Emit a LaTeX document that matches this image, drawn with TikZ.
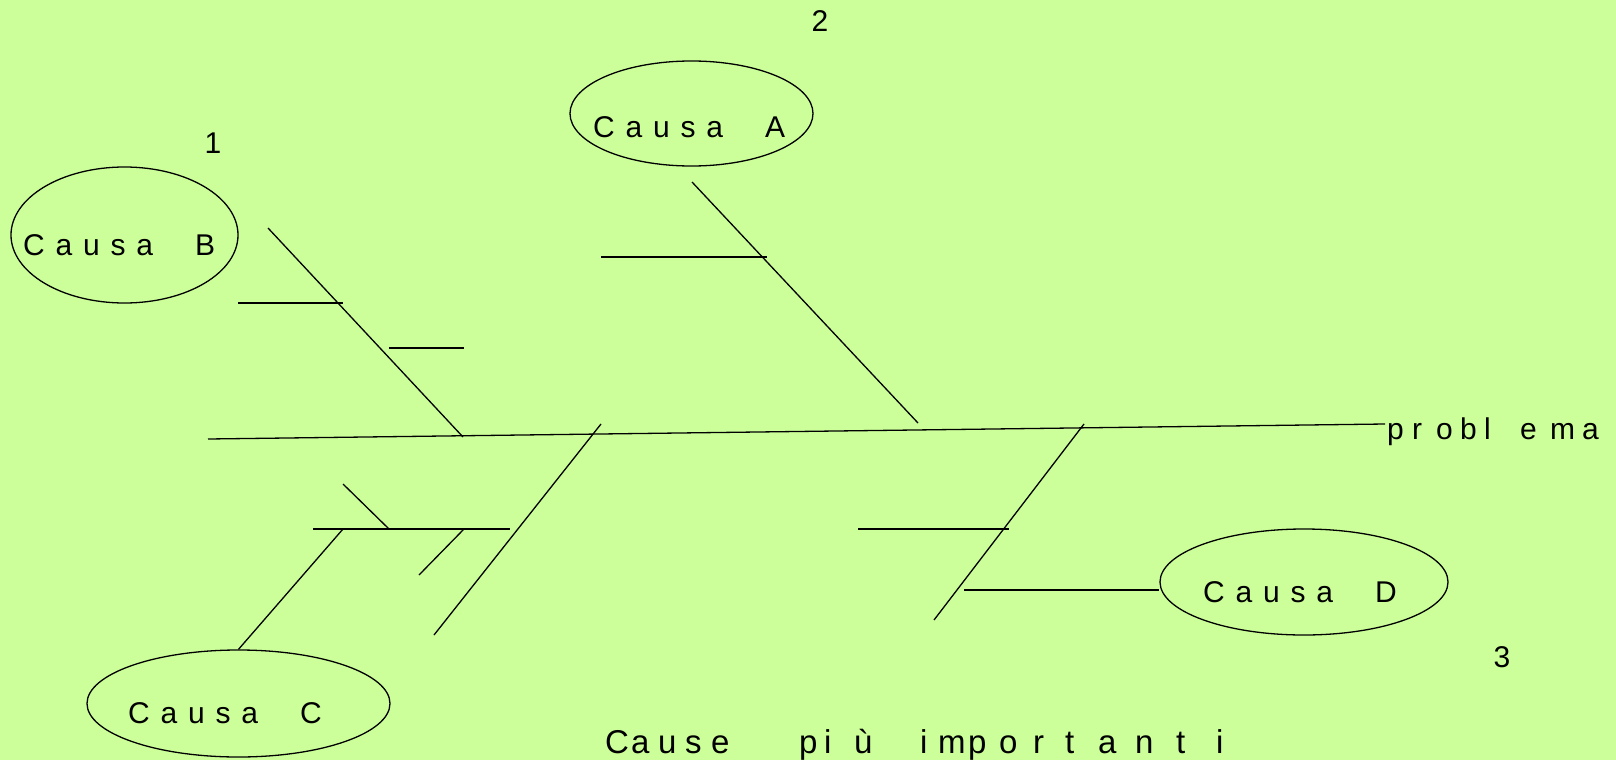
\documentclass[tikz,border=0pt]{standalone}
\usepackage{fontspec}
\setmainfont{Liberation Sans}
\usetikzlibrary{shapes.geometric}
\definecolor{bg}{HTML}{CCFF99}
\newcommand\ls{\hspace{0.36em}}
\newcommand\cw[2]{\makebox[#1pt][l]{#2}}
\begin{document}
\begin{tikzpicture}[x=1pt,y=-1pt,
  bone/.style={line width=1.3pt, black},
  cause/.style={ellipse, draw, line width=1.3pt, inner sep=0pt},
  lbl/.style={font=\fontsize{30}{36}\selectfont, inner sep=0pt, anchor=base west},
  num/.style={font=\fontsize{30}{36}\selectfont, inner sep=0pt, anchor=base}]
\useasboundingbox (0,0) rectangle (1616,760);
\fill[bg] (0,0) rectangle (1616,760);

% ellipses
\node[cause, minimum width=243pt, minimum height=105pt] (eA) at (691.5,113.5) {};
\node[cause, minimum width=227pt, minimum height=136pt] (eB) at (124.5,235) {};
\node[cause, minimum width=303pt, minimum height=107pt] (eC) at (238.5,703.5) {};
\node[cause, minimum width=288pt, minimum height=106pt] (eD) at (1304,582) {};

% labels
\node[lbl] (tA) at (593,137) {C\ls a\ls u\ls s\ls a\hspace{1.4em}A};
\node[lbl] (tB) at (23,255) {C\ls a\ls u\ls s\ls a\hspace{1.4em}B};
\node[lbl] (tC) at (128,723) {C\ls a\ls u\ls s\ls a\hspace{1.4em}C};
\node[lbl] (tD) at (1203,602) {C\ls a\ls u\ls s\ls a\hspace{1.4em}D};
\node[lbl] (prob) at (1387,439)
  {\cw{25}{p}\cw{24}{r}\cw{24}{o}\cw{24}{b}\cw{36}{l}\cw{30}{e}\cw{32}{m}a};
\node[lbl, font=\fontsize{33}{40}\selectfont] (title) at (605,753)
  {\cw{26}{C}\cw{27}{a}\cw{27}{u}\cw{26}{s}\cw{88}{e}\cw{25}{p}\cw{30}{i}\cw{66}{ù}\cw{18}{i}\cw{30}{m}\cw{31}{p}\cw{34}{o}\cw{32}{r}\cw{33}{t}\cw{37}{a}\cw{41}{n}\cw{40}{t}i};
\node[num] (n1) at (213,153) {1};
\node[num] (n2) at (820,32) {2};
\node[num] (n3) at (1502,667) {3};

% coordinates
\coordinate (sL) at (208,439);
\coordinate (sR) at (1385,424);
\coordinate (a1) at (692,182);
\coordinate (a2) at (918,423);
\coordinate (as1) at (601,257);
\coordinate (as2) at (767,257);
\coordinate (b1) at (268,228);
\coordinate (b2) at (463,437);
\coordinate (bs1) at (238,303);
\coordinate (bs2) at (343,303);
\coordinate (bt1) at (389,348);
\coordinate (bt2) at (464,348);
\coordinate (c1) at (601,424);
\coordinate (c2) at (434,635);
\coordinate (cs1) at (313,529);
\coordinate (cs2) at (510,529);
\coordinate (cj) at (343,529);
\coordinate (cu1) at (343,484);
\coordinate (cu2) at (389,529);
\coordinate (cd1) at (464,529);
\coordinate (cd2) at (419,575);
\coordinate (d1) at (1084,424);
\coordinate (d2) at (934,620);
\coordinate (ds1) at (858,529);
\coordinate (ds2) at (1009,529);
\coordinate (dt1) at (964,590);

% bones
\draw[bone] (sL) -- (sR);
\draw[bone] (a1) -- (a2);
\draw[bone] (as1) -- (as2);
\draw[bone] (b1) -- (b2);
\draw[bone] (bs1) -- (bs2);
\draw[bone] (bt1) -- (bt2);
\draw[bone] (c1) -- (c2);
\draw[bone] (cs1) -- (cs2);
\draw[bone] (cu1) -- (cu2);
\draw[bone] (cd1) -- (cd2);
\draw[bone] (cj) -- (eC.north);
\draw[bone] (d1) -- (d2);
\draw[bone] (ds1) -- (ds2);
\draw[bone] (dt1) -- (eD.west |- dt1);
\end{tikzpicture}
\end{document}
